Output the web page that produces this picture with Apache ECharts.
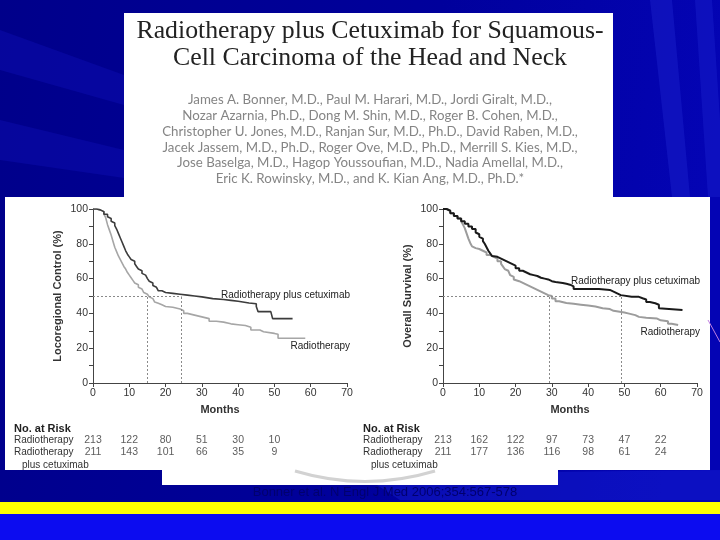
<!DOCTYPE html>
<html><head><meta charset="utf-8">
<script src="https://cdn.jsdelivr.net/npm/echarts@6/dist/echarts.min.js"></script>
<style>html,body{margin:0;padding:0;background:#000090}#c{width:720px;height:540px}</style>
</head><body><div id="c"></div>
<script>
// ---- Data ----
// Locoregional control
const lcCetuxMonths = [0,1,2,3,4,4.5,5,5.5,6,6.5,7,7.5,8,8.5,9,9.5,10,10.5,11,11.5,12,12.5,13,13.5,14,14.5,15,15.5,16,16.5,17,17.5,18,19,20,22,24,26,28,30,33,36,38,40,43,45,45.5,49,49.5,55];
const lcCetux       = [100,99.5,98.5,97,95.5,94.5,93,92,90.5,88.5,86,83.5,81,78.5,76,74,72.5,71,70,68.5,67,65.5,64.5,63,62,61,60,58.5,57.5,56,55,54,53,52,51.5,51,50.5,50,49.5,48.5,48,47.5,47,46,45.5,44,41,41,37,37];
const lcRadioMonths = [0,1,2,3,3.5,4,4.5,5,5.5,6,6.5,7,7.5,8,8.5,9,9.5,10,10.5,11,11.5,12,12.5,13,13.5,14,14.5,15,15.5,16,16.5,17,17.5,18,19,20,22,24,25,26,28,30,32,34,36,38,40,42,43.5,46,47,50,51,58.5];
const lcRadio       = [100,99.5,98.5,97,95,91,88,85,81.5,78,75.5,73,71,69,67,65.5,63.5,62,60.5,59,57.5,56.5,55,54,53,52,51,50.5,49.5,48.5,47.5,46.5,45.8,45,44,43.5,42.5,41.5,40,39,38,37,35.5,35,34,33.5,33,32,30.5,29.5,28.5,28,25.7,25.7];
const lcMedians = [14.9, 24.4];
// Overall survival
const osCetuxMonths = [0,1,2,3,4,5,6,7,8,9,9.5,10,10.5,11,11.5,12,12.5,13,13.5,14,15,16,17,18,19,20,21,22,23,24,25,26,27,28,29,30,31,33,34,35,36,41,43,46,47,48,49,52,54,55,56,57,58.5,59.5,60,66];
const osCetux       = [100,99,97.5,96,94.5,93,91.5,90,88.5,86.5,85.5,84,83,81.5,80,78,76,74.5,73,72.5,71.5,70.5,69.5,68.5,67.5,66,64.5,63.5,62.5,62,61.5,60.5,60,59.5,58.5,58,57.5,57,56.5,55.5,54,54,53.5,52.5,51.5,50.5,49.6,49.5,48.7,48,46.5,45.8,45,43,42,42];
const osRadioMonths = [0,1,2,3,4,5,5.5,6,6.5,7,7.5,8,8.5,9,10,11,12,13,14,15,16,16.5,17,17.5,18,18.5,19,19.5,20,21,22,23,24,25,26,27,28,29,30,31,32,34,36,38,40,42,44,46,47,50,51,53,54,56,59,60,62,63,64.8];
const osRadio       = [100,99,97.5,96,94.5,93,91,89,86,83,80.5,78.5,77.5,77,76,75,73.5,72.5,71.5,70,68.5,67,65.5,64.5,63.5,62,61,59.5,58.5,57.5,56.5,55.5,54.5,53.5,52.5,51.5,50.5,50,48.5,47,46,45.5,45,44.5,44,43,42.5,41.5,40.5,40,39,38,37.5,37,36,35.5,34,33.3,33.3];
const osMedians = [29.3, 49.0];
// Numbers at risk
const lcRiskMonths = [0,10,20,30,40,50];
const lcRiskRadio  = [213,122,80,51,30,10];
const lcRiskCetux  = [211,143,101,66,35,9];
const osRiskMonths = [0,10,20,30,40,50,60];
const osRiskRadio  = [213,162,122,97,73,47,22];
const osRiskCetux  = [211,177,136,116,98,61,24];
const riskRows = ['Radiotherapy','Radiotherapy plus cetuximab'];

const titleLines = ['Radiotherapy plus Cetuximab for Squamous-','Cell Carcinoma of the Head and Neck'];
const authorLines = [
 'James A. Bonner, M.D., Paul M. Harari, M.D., Jordi Giralt, M.D.,',
 'Nozar Azarnia, Ph.D., Dong M. Shin, M.D., Roger B. Cohen, M.D.,',
 'Christopher U. Jones, M.D., Ranjan Sur, M.D., Ph.D., David Raben, M.D.,',
 'Jacek Jassem, M.D., Ph.D., Roger Ove, M.D., Ph.D., Merrill S. Kies, M.D.,',
 'Jose Baselga, M.D., Hagop Youssoufian, M.D., Nadia Amellal, M.D.,',
 'Eric K. Rowinsky, M.D., and K. Kian Ang, M.D., Ph.D.*'
];
const citation = 'Bonner et al. N Engl J Med 2006;354:567-578';

// ---- Build ----
const F = "'Liberation Sans',Arial,sans-serif";
const zip = (a,b) => a.map((v,i)=>[v,b[i]]);

const gridsDef = [
  {left:93, top:209, width:254, height:174},
  {left:443, top:209, width:254, height:174},
  {left:93, top:434, width:254, height:24},
  {left:443, top:434, width:254, height:24}
];

function xAx(i){
  return {gridIndex:i, type:'value', min:0, max:70, interval:10,
    axisLine:{show:true, lineStyle:{color:'#444', width:1}},
    axisTick:{show:true, length:4, lineStyle:{color:'#444'}},
    axisLabel:{color:'#333', fontSize:10.5, fontFamily:F, margin:5},
    splitLine:{show:false},
    name:'Months', nameLocation:'middle', nameGap:21,
    nameTextStyle:{color:'#333', fontSize:11, fontWeight:'bold', fontFamily:F}};
}
function yAx(i, name){
  return {gridIndex:i, type:'value', min:0, max:100, interval:10,
    axisLine:{show:true, lineStyle:{color:'#444', width:1}},
    axisTick:{show:true, length:4, lineStyle:{color:'#444'}},
    axisLabel:{color:'#333', fontSize:10.5, fontFamily:F, margin:5,
      formatter: v => (v % 20 === 0 ? String(v) : '')},
    splitLine:{show:false},
    name:name, nameLocation:'middle', nameGap:30, nameRotate:90,
    nameTextStyle:{color:'#333', fontSize:11, fontWeight:'bold', fontFamily:F}};
}
function riskX(i){ return {gridIndex:i, type:'value', min:0, max:70, show:false}; }
function riskY(i){ return {gridIndex:i, type:'category', data:riskRows, inverse:true, show:false}; }

function dashedMedians(meds){
  const s = {symbol:'none', silent:true, label:{show:false},
    lineStyle:{type:[2,2], color:'#8a8a8a', width:1},
    data:[[{coord:[0,50]},{coord:[meds[1],50]}]]};
  meds.forEach(m => s.data.push([{coord:[m,0]},{coord:[m,50]}]));
  return s;
}
function curveLabel(text, x, y){
  return {symbol:'circle', symbolSize:0, silent:true,
    data:[{coord:[x,y], value:0, label:{show:true, formatter:text, position:'left', distance:-3,
      color:'#222', fontSize:10, fontFamily:F}}]};
}
function riskSeries(xi, months, radio, cetux){
  const data = [];
  months.forEach((m,k)=>{ data.push([m,0,radio[k]]); data.push([m,1,cetux[k]]); });
  return {type:'scatter', xAxisIndex:xi, yAxisIndex:xi, data:data, symbolSize:2,
    itemStyle:{color:'rgba(255,255,255,0)'}, silent:true, labelLayout:{hideOverlap:false},
    label:{show:true, position:'inside', formatter:p=>String(p.value[2]), color:'#333', fontSize:10.5, fontFamily:F}};
}

const series = [
  {type:'line', name:'lc-radio', xAxisIndex:0, yAxisIndex:0, step:'end', showSymbol:false, silent:true,
   data:zip(lcRadioMonths, lcRadio), lineStyle:{color:'#a6a6a6', width:1.6}, z:3,
   markLine:dashedMedians(lcMedians), markPoint:curveLabel('Radiotherapy', 70, 21.3)},
  {type:'line', name:'lc-cetux', xAxisIndex:0, yAxisIndex:0, step:'end', showSymbol:false, silent:true,
   data:zip(lcCetuxMonths, lcCetux), lineStyle:{color:'#3c3c3c', width:1.6}, z:4,
   markPoint:curveLabel('Radiotherapy plus cetuximab', 70, 50.6)},
  {type:'line', name:'os-radio', xAxisIndex:1, yAxisIndex:1, step:'end', showSymbol:false, silent:true,
   data:zip(osRadioMonths, osRadio), lineStyle:{color:'#9c9c9c', width:2}, z:3,
   markLine:dashedMedians(osMedians), markPoint:curveLabel('Radiotherapy', 70, 29.3)},
  {type:'line', name:'os-cetux', xAxisIndex:1, yAxisIndex:1, step:'end', showSymbol:false, silent:true,
   data:zip(osCetuxMonths, osCetux), lineStyle:{color:'#1a1a1a', width:2}, z:4,
   markPoint:curveLabel('Radiotherapy plus cetuximab', 70, 58.6)},
  riskSeries(2, lcRiskMonths, lcRiskRadio, lcRiskCetux),
  riskSeries(3, osRiskMonths, osRiskRadio, osRiskCetux)
];

// ---- Slide decoration ----
const g = [];
g.push({type:'rect', z:-100, shape:{x:0,y:0,width:720,height:540},
  style:{fill:new echarts.graphic.LinearGradient(0,0,1,0.2,[{offset:0,color:'#00008a'},{offset:0.6,color:'#00009c'},{offset:1,color:'#0404b4'}])}});
g.push({type:'polygon', z:-99, shape:{points:[[0,30],[124,75],[124,105],[0,70]]}, style:{fill:'rgba(20,20,200,0.3)'}});
g.push({type:'polygon', z:-99, shape:{points:[[0,120],[124,150],[124,178],[0,160]]}, style:{fill:'rgba(20,20,200,0.28)'}});
g.push({type:'polygon', z:-99, shape:{points:[[650,0],[672,0],[690,197],[672,197]]}, style:{fill:'rgba(40,50,220,0.3)'}});
g.push({type:'polygon', z:-99, shape:{points:[[695,0],[712,0],[720,120],[720,197],[708,197]]}, style:{fill:'rgba(40,50,220,0.28)'}});
g.push({type:'polygon', z:-99, shape:{points:[[360,474],[720,470],[720,500],[400,500]]}, style:{fill:'rgba(30,40,220,0.35)'}});
g.push({type:'line', z:-95, shape:{x1:708,y1:320,x2:720,y2:342}, style:{stroke:'#c080e0', lineWidth:1}});
g.push({type:'rect', z:-98, shape:{x:0,y:502,width:720,height:12}, style:{fill:'#ffff00'}});
g.push({type:'rect', z:-98, shape:{x:0,y:514,width:720,height:26}, style:{fill:'#0c0cf0'}});
g.push({type:'rect', z:-97, shape:{x:124,y:13,width:489,height:186}, style:{fill:'#ffffff'}});
g.push({type:'rect', z:-97, shape:{x:162,y:197,width:396,height:288}, style:{fill:'#ffffff'}});
g.push({type:'rect', z:-97, shape:{x:5,y:197,width:705,height:273}, style:{fill:'#ffffff'}});
g.push({type:'bezierCurve', z:-96, shape:{x1:295,y1:471,x2:435,y2:471,cpx1:365,cpy1:492}, style:{stroke:'#d2d2d2', lineWidth:3, fill:null}});
titleLines.forEach((t,i)=> g.push({type:'text', z:10, x:370, y:44+i*27,
  style:{text:t, fill:'#222', font:"25.8px 'Liberation Serif','DejaVu Serif',serif", textAlign:'center', textVerticalAlign:'bottom'}}));
authorLines.forEach((t,i)=> g.push({type:'text', z:10, x:370, y:100+i*15.8,
  style:{text:t, fill:'#858585', font:"13.3px Lato,'Open Sans',sans-serif", textAlign:'center', textVerticalAlign:'middle'}}));
[14,363].forEach(x=>{
  g.push({type:'text', z:10, x:x, y:429, style:{text:'No. at Risk', fill:'#222', font:"bold 11px "+F, textVerticalAlign:'middle'}});
  g.push({type:'text', z:10, x:x, y:440, style:{text:'Radiotherapy', fill:'#333', font:"10px "+F, textVerticalAlign:'middle'}});
  g.push({type:'text', z:10, x:x, y:452, style:{text:'Radiotherapy', fill:'#333', font:"10px "+F, textVerticalAlign:'middle'}});
  g.push({type:'text', z:10, x:x+8, y:465, style:{text:'plus cetuximab', fill:'#333', font:"10px "+F, textVerticalAlign:'middle'}});
});
g.push({type:'text', z:10, x:385, y:492, style:{text:citation, fill:'#00006e', font:"13px 'Liberation Sans',sans-serif", textAlign:'center', textVerticalAlign:'middle'}});

const chart = echarts.init(document.getElementById('c'), null, {renderer:'canvas'});
chart.setOption({
  animation:false,
  backgroundColor:'#000090',
  grid:gridsDef,
  xAxis:[xAx(0), xAx(1), riskX(2), riskX(3)],
  yAxis:[yAx(0,'Locoregional Control (%)'), yAx(1,'Overall Survival (%)'), riskY(2), riskY(3)],
  series:series,
  graphic:{elements:g}
});
</script></body></html>
